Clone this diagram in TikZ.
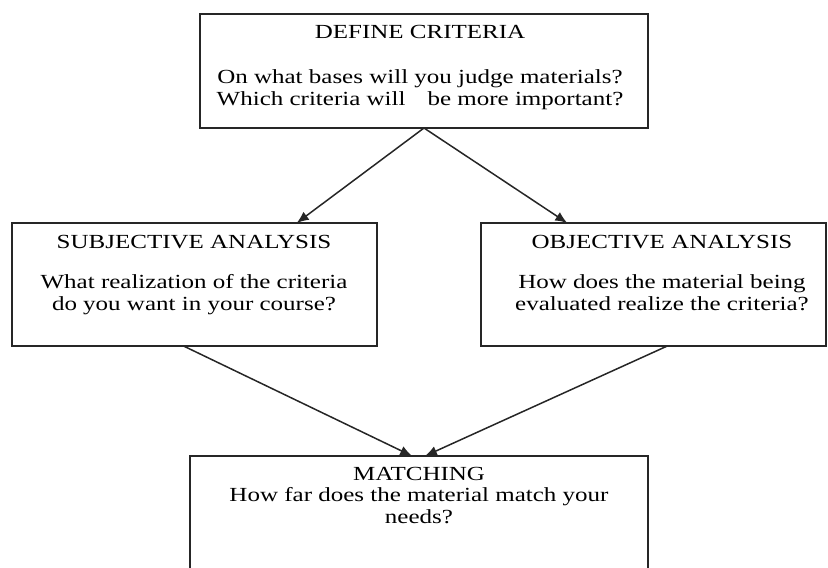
\documentclass[tikz,border=0pt]{standalone}
\usepackage{fontspec}
\setmainfont[FakeStretch=1.25]{Liberation Serif}
\usepackage{tikz}
\usetikzlibrary{positioning, calc, arrows.meta}

\begin{document}
\begin{tikzpicture}[x=1pt, y=-1pt]
      \tikzset{ box/.style ={draw=black!85, line width=1.5pt, rectangle, inner sep=0pt, outer sep=0pt} }
      \tikzset{ head/.style={anchor=base, text=black, font=\fontsize{20}{22}\selectfont} }
      \tikzset{ ask/.style ={anchor=base, text=black, align=center, font=\fontsize{20}{22}\selectfont} }
      \tikzset{ flow/.style={->, >={Latex[length=12pt, width=10pt]}, line width=1.5pt, draw=black!85} }

      \clip (0,0) rectangle (828,568);

      \node[box, minimum width=448pt, minimum height=114pt] (def)   at (424.0,  71.0) {};
      \node[box, minimum width=365pt, minimum height=123pt] (subj)  at (194.5, 284.5) {};
      \node[box, minimum width=345pt, minimum height=123pt] (obj)   at (653.5, 284.5) {};
      \node[box, minimum width=458pt, minimum height=164pt] (match) at (419.0, 538.0) {};

      \node[head] (defhead)   at (420,  38) {DEFINE CRITERIA};
      \node[ask ] (defask)    at (420, 105) {On what bases will you judge materials?\\Which criteria will\hspace{22pt}be more important?};
      \node[head] (subjhead)  at (194, 248) {SUBJECTIVE ANALYSIS};
      \node[ask ] (subjask)   at (194, 310) {What realization of the criteria\\do you want in your course?};
      \node[head] (objhead)   at (662, 248) {OBJECTIVE ANALYSIS};
      \node[ask ] (objask)    at (662, 310) {How does the material being\\evaluated realize the criteria?};
      \node[head] (matchhead) at (419, 480) {MATCHING};
      \node[ask ] (matchask)  at (419, 523) {How far does the material match your\\needs?};

      \draw[flow] (def.south) -- ($(subj.north west)!0.78!(subj.north east)$);
      \draw[flow] (def.south) -- ($(obj.north west)!0.25!(obj.north east)$);
      \draw[flow] ($(subj.south west)!0.47!(subj.south east)$) -- ($(match.north west)!0.485!(match.north east)$);
      \draw[flow] ($(obj.south west)!0.54!(obj.south east)$)   -- ($(match.north west)!0.513!(match.north east)$);
    \end{tikzpicture}
\end{document}
